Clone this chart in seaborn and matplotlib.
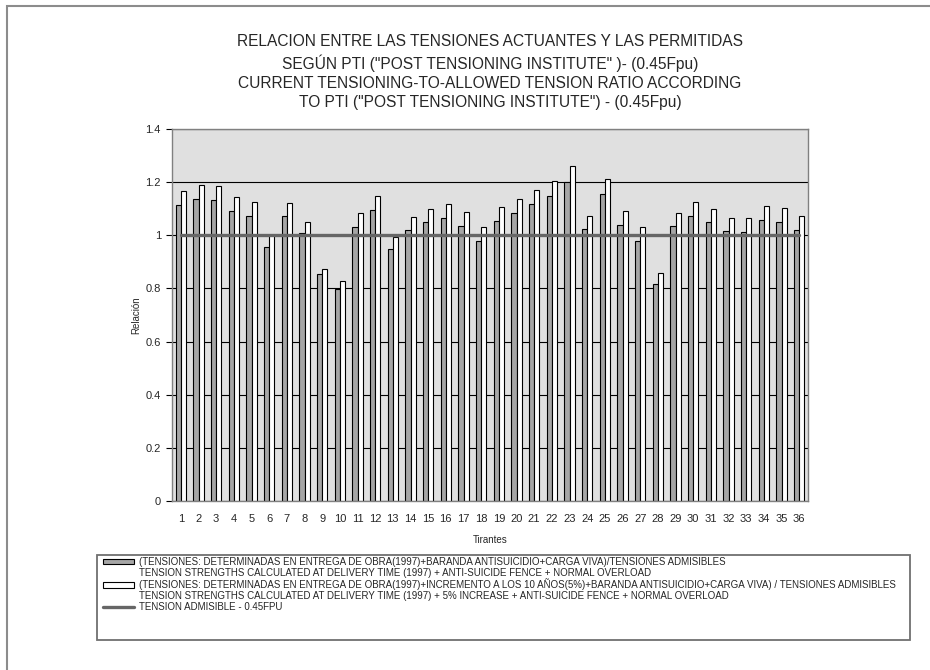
import numpy as np
import pandas as pd
import seaborn as sns
import matplotlib.pyplot as plt
from matplotlib.patches import Patch, Rectangle
from matplotlib.lines import Line2D
from matplotlib.ticker import FormatStrFormatter

# Tirantes 1..36
tirantes = [str(i) for i in range(1, 37)]

# ratio at delivery (1997) + fence + live load
entrega = [1.113, 1.137, 1.134, 1.090, 1.074, 0.956, 1.071, 1.009, 0.856, 0.796,
           1.031, 1.095, 0.950, 1.019, 1.049, 1.064, 1.036, 0.980, 1.054, 1.083,
           1.116, 1.149, 1.200, 1.024, 1.156, 1.039, 0.978, 0.818, 1.034, 1.073,
           1.050, 1.016, 1.014, 1.056, 1.049, 1.020]

# ratio with 10 year (5%) increase
incremento = [1.167, 1.189, 1.186, 1.144, 1.126, 1.000, 1.120, 1.050, 0.874, 0.829,
              1.084, 1.148, 0.994, 1.068, 1.100, 1.116, 1.089, 1.031, 1.105, 1.135,
              1.170, 1.205, 1.259, 1.073, 1.213, 1.091, 1.030, 0.857, 1.084, 1.125,
              1.100, 1.066, 1.065, 1.109, 1.101, 1.071]

admisible = [1.0] * 36

yticks = [0, 0.2, 0.4, 0.6, 0.8, 1.0, 1.2, 1.4]

lab1 = "(TENSIONES: DETERMINADAS EN ENTREGA DE OBRA(1997)+BARANDA ANTISUICIDIO+CARGA VIVA)/TENSIONES ADMISIBLES"
lab1b = "TENSION STRENGTHS CALCULATED AT DELIVERY TIME (1997) + ANTI-SUICIDE FENCE + NORMAL OVERLOAD"
lab2 = "(TENSIONES: DETERMINADAS EN ENTREGA DE OBRA(1997)+INCREMENTO A LOS 10 AÑOS(5%)+BARANDA ANTISUICIDIO+CARGA VIVA) / TENSIONES ADMISIBLES"
lab2b = "TENSION STRENGTHS CALCULATED AT DELIVERY TIME (1997) + 5% INCREASE + ANTI-SUICIDE FENCE + NORMAL OVERLOAD"
lab3 = "TENSION ADMISIBLE - 0.45FPU"

titulo = ("RELACION ENTRE LAS TENSIONES ACTUANTES Y LAS PERMITIDAS\n"
          "SEGÚN PTI (\"POST TENSIONING INSTITUTE\" )- (0.45Fpu)\n"
          "CURRENT TENSIONING-TO-ALLOWED TENSION RATIO ACCORDING\n"
          "TO PTI (\"POST TENSIONING INSTITUTE\") - (0.45Fpu)")

df = pd.DataFrame({
    "Tirantes": tirantes * 2,
    "Relacion": entrega + incremento,
    "Serie": ["entrega"] * 36 + ["incremento"] * 36,
})

sns.set_style("white")
plt.rcParams["font.family"] = ["Liberation Sans", "DejaVu Sans"]

W, H = 930, 670
fig = plt.figure(figsize=(9.3, 6.7), dpi=100)
ax = fig.add_axes([172 / W, 1 - 501 / H, 636 / W, 372 / H])
ax.set_facecolor("#e0e0e0")

sns.barplot(data=df, x="Tirantes", y="Relacion", hue="Serie",
            palette=["#a6a6a6", "white"], width=0.6, edgecolor="black",
            linewidth=0.8, saturation=1, legend=False, ax=ax, zorder=2)

sns.lineplot(x=np.arange(36), y=admisible, color="#666666", linewidth=2.4,
             ax=ax, zorder=3)

ax.set_xlim(-0.5, 35.5)
ax.set_ylim(0, 1.4)
ax.set_yticks(yticks)
ax.yaxis.set_major_formatter(FormatStrFormatter("%g"))
ax.grid(axis="y", color="black", linewidth=0.8)
ax.set_axisbelow(True)

ax.set_xticks(np.arange(-0.5, 36), minor=True)
ax.tick_params(axis="x", which="major", length=0, labelsize=8, pad=9)
ax.tick_params(axis="x", which="minor", length=3, width=0.8, color="black",
               direction="out")
ax.tick_params(axis="y", length=4, width=0.8, color="black", direction="out",
               labelsize=8, left=True, pad=4)

for s in ax.spines.values():
    s.set_color("#808080")
    s.set_linewidth(1)

ax.set_xlabel("Tirantes", fontsize=7, labelpad=8)
ax.set_ylabel("Relación", fontsize=7, labelpad=3)

fig.text(490 / W, 1 - 72 / H, titulo, ha="center", va="center",
         fontsize=11.2, linespacing=1.33)

# legend box (drawn separately, it is taller than its entries)
fig.add_artist(Rectangle((97 / W, 1 - 640 / H), 813 / W, 85 / H,
                         transform=fig.transFigure, fill=False,
                         edgecolor="#707070", linewidth=1.3))

blank = Patch(facecolor="none", edgecolor="none")
handles = [Patch(facecolor="#a6a6a6", edgecolor="black", linewidth=0.8),
           blank,
           Patch(facecolor="white", edgecolor="black", linewidth=0.8),
           blank,
           Line2D([], [], color="#666666", linewidth=2.4)]
labels = [lab1, lab1b, lab2, lab2b, lab3]
leg = fig.legend(handles, labels, loc="upper left",
                 bbox_to_anchor=(101 / W, 1 - 555 / H), fontsize=7.0,
                 handlelength=3.2, handleheight=0.5, handletextpad=0.55,
                 labelspacing=0.08, borderaxespad=0, borderpad=0.2,
                 frameon=False)

fig.add_artist(Rectangle((7 / W, -0.1), 1.2, 1.1 - 6 / H,
                         transform=fig.transFigure, fill=False,
                         edgecolor="#8c8c8c", linewidth=1.5))

fig.savefig("out.png", dpi=100)
